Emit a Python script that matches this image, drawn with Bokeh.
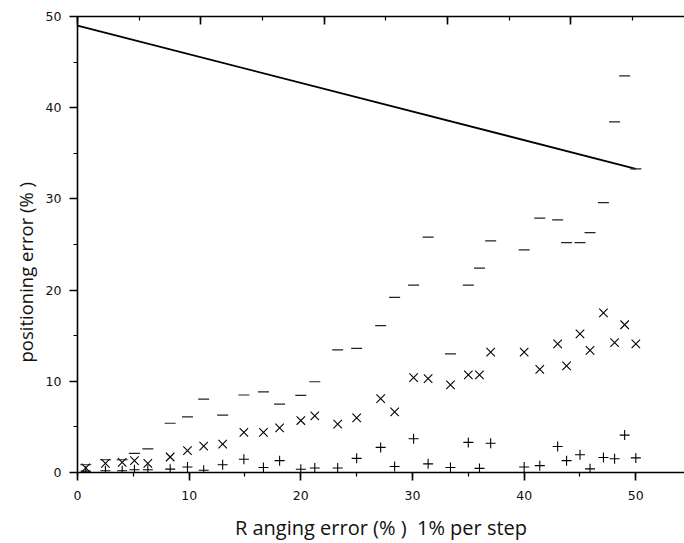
from bokeh.plotting import figure
from bokeh.models import Range1d, LinearAxis, SingleIntervalTicker, Title
from bokeh.embed import file_html
from bokeh.resources import INLINE

# Ranging error steps (%)
ranging = [0.74, 2.5, 4.0, 5.1, 6.3, 8.3, 9.85, 11.3, 13.0, 14.9, 16.65, 18.1, 20.0, 21.25,
           23.3, 25.0, 27.15, 28.4, 30.1, 31.4, 33.4, 35.0, 36.0, 37.0, 40.0, 41.4, 43.0,
           43.8, 45.0, 45.9, 47.1, 48.1, 49.0, 50.0]
# upper series (dash markers)
err_dash = [0.85, 1.4, 1.4, 2.1, 2.6, 5.4, 6.1, 8.05, 6.3, 8.5, 8.85, 7.5, 8.45, 9.95,
            13.45, 13.6, 16.1, 19.2, 20.55, 25.8, 13.0, 20.55, 22.4, 25.4, 24.4, 27.9, 27.7,
            25.2, 25.2, 26.3, 29.6, 38.45, 43.5, 33.3]
# middle series (x markers)
err_x = [0.5, 1.0, 1.1, 1.3, 1.0, 1.7, 2.4, 2.9, 3.1, 4.4, 4.4, 4.9, 5.7, 6.2,
         5.3, 6.0, 8.1, 6.65, 10.4, 10.3, 9.6, 10.7, 10.7, 13.2, 13.2, 11.3, 14.1,
         11.7, 15.2, 13.4, 17.5, 14.25, 16.2, 14.1]
# lower series (+ markers)
err_plus = [0.15, 0.2, 0.2, 0.3, 0.3, 0.37, 0.6, 0.25, 0.85, 1.45, 0.55, 1.3, 0.35, 0.5,
            0.5, 1.55, 2.75, 0.65, 3.7, 0.95, 0.55, 3.3, 0.45, 3.2, 0.6, 0.75, 2.85,
            1.3, 1.95, 0.4, 1.65, 1.5, 4.1, 1.6]
# straight reference line
line_x = [0, 50]
line_y = [49, 33.3]

top_ticks = [0, 2, 4, 6, 8]

FONT = "DejaVu Sans"
TITLE_FONT = "Open Sans"

p = figure(frame_width=607, frame_height=456, output_backend="svg", toolbar_location=None,
           x_range=Range1d(0, 54.36), y_range=Range1d(0, 50),
           min_border_left=77, min_border_right=0, min_border_top=16, min_border_bottom=10,
           background_fill_color="white", border_fill_color="white")
p.outline_line_color = None
p.xgrid.visible = False
p.ygrid.visible = False

p.line(line_x, line_y, line_color="black", line_width=1.8)
p.scatter(ranging, err_dash, marker="dash", size=11, line_color="#222222", line_width=1.2)
p.scatter(ranging, err_x, marker="x", size=12, line_color="black", line_width=1.1)
p.scatter(ranging, err_plus, marker="cross", size=10, line_color="black", line_width=1.1)

for ax in (p.xaxis[0], p.yaxis[0]):
    ax.ticker = SingleIntervalTicker(interval=10, num_minor_ticks=2)
    ax.axis_line_color = "black"
    ax.axis_line_width = 1.6
    ax.major_tick_line_width = 1.6
    ax.minor_tick_line_width = 1.2
    ax.major_tick_in = 0
    ax.major_tick_out = 8
    ax.minor_tick_in = 0
    ax.minor_tick_out = 4
    ax.major_label_text_font = FONT
    ax.major_label_text_font_size = "12.5px"
    ax.major_label_text_color = "#111111"
    ax.axis_label_text_font = TITLE_FONT
    ax.axis_label_text_font_style = "normal"
    ax.axis_label_text_color = "#111111"

p.xaxis[0].axis_label = "R anging error (% )\u00a0\u00a01% per step"
p.xaxis[0].axis_label_text_font_size = "20px"
p.xaxis[0].major_label_standoff = 10
p.xaxis[0].axis_label_standoff = 11
p.yaxis[0].major_label_standoff = 8

# y axis title, placed slightly below the frame centre as in the reference
ytitle = Title(text="positioning error (% )", align="left", offset=110,
               text_font=TITLE_FONT, text_font_size="18.5px", text_font_style="normal",
               text_color="#111111", standoff=10)
p.add_layout(ytitle, "left")

# top axis (ticks only, pointing inward, no labels)
p.extra_x_ranges = {"top": Range1d(0, 607 / 61.67)}
top = LinearAxis(x_range_name="top", ticker=SingleIntervalTicker(interval=2, num_minor_ticks=2))
top.axis_line_width = 1.6
top.major_tick_in = 8
top.major_tick_out = 0
top.minor_tick_in = 4
top.minor_tick_out = 0
top.major_tick_line_width = 1.6
top.minor_tick_line_width = 1.2
top.major_label_overrides = {t: "" for t in top_ticks}
top.major_label_standoff = 0
p.add_layout(top, "above")

open("out.html", "w").write(file_html(p, INLINE))
